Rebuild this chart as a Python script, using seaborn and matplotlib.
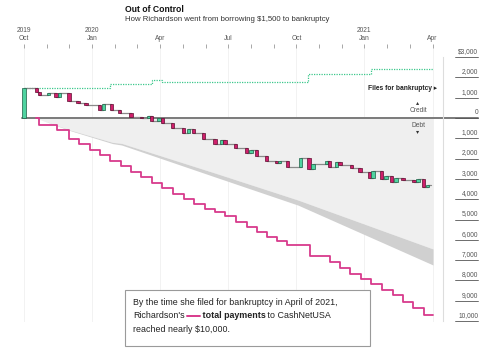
import matplotlib
matplotlib.use('Agg')
import matplotlib.pyplot as plt
from matplotlib.lines import Line2D
from matplotlib.patches import Rectangle
import seaborn as sns
import pandas as pd

# ---------------------------
# Data (months since Oct 1, 2019; dollars, debt negative)
# ---------------------------
pay_month = [0.53, 0.65, 1.45, 1.98, 2.42, 2.91, 3.35, 3.79, 4.27, 4.71, 5.15,
             5.64, 6.08, 6.56, 7.05, 7.49, 7.97, 8.41, 8.85, 9.34, 9.82, 10.26,
             10.70, 11.15, 11.59, 12.60, 13.48, 13.92, 14.36, 14.85, 15.29,
             15.77, 16.26, 16.70, 17.14, 17.62, 18.0]
pay_total = [0, -350, -600, -1030, -1300, -1580, -1820, -2120, -2360, -2660,
             -2900, -3200, -3450, -3740, -3990, -4240, -4480, -4650, -4850,
             -5100, -5350, -5600, -5850, -6050, -6280, -6800, -7100, -7400,
             -7700, -7950, -8200, -8450, -8720, -9060, -9360, -9700, -9700]

evt_month = [0.0, 0.56, 0.67, 1.07, 1.41, 1.56, 1.98, 2.38, 2.74, 3.33, 3.49,
             3.85, 4.21, 4.71, 5.18, 5.48, 5.62, 5.95, 6.09, 6.53, 7.02, 7.24,
             7.46, 7.90, 8.41, 8.70, 8.85, 9.33, 9.81, 10.0, 10.25, 10.69,
             11.12, 11.26, 11.61, 12.19, 12.56, 12.74, 13.33, 13.45, 13.76,
             13.92, 14.43, 14.80, 15.24, 15.37, 15.76, 15.95, 16.20, 16.39,
             16.70, 17.18, 17.36, 17.59, 17.78]
evt_level = [1500, 1300, 1130, 1220, 1020, 1220, 820, 760, 640, 390, 690,
             390, 230, 60, -15, 100, -130, 0, -230, -490, -740, -540,
             -740, -1030, -1280, -1060, -1300, -1490, -1740, -1580, -1860, -2120,
             -2220, -2120, -2400, -1990, -2510, -2270, -2120, -2400, -2180,
             -2320, -2480, -2670, -2970, -2610, -3000, -2840, -3140, -2980,
             -3060, -3140, -3000, -3380, -3300]

credit_month = [0, 3.79, 5.64, 6.08, 12.51, 15.29, 18.02]
credit_total = [1500, 1670, 1870, 1770, 2170, 2410, 2410]

band_month = [0.53, 2.03, 3.9, 4.3, 8.41, 12.07, 18.02]
band_top = [0, -590, -1200, -1250, -2710, -4040, -6450]
band_bottom = [0, -620, -1260, -1330, -2900, -4290, -7240]

tick_months = [0, 3, 6, 9, 12, 15, 18]
tick_labels = ["2019\nOct", "2020\nJan", "Apr", "Jul", "Oct", "2021\nJan", "Apr"]
y_ticks = [3000, 2000, 1000, 0, -1000, -2000, -3000, -4000, -5000, -6000,
           -7000, -8000, -9000, -10000]
y_labels = ["$3,000", "2,000", "1,000", "0", "1,000", "2,000", "3,000", "4,000",
            "5,000", "6,000", "7,000", "8,000", "9,000", "10,000"]

# ---------------------------
# Style
# ---------------------------
sns.set_theme(style="white")
plt.rcParams['font.family'] = ['Liberation Sans', 'DejaVu Sans']

MAGENTA = "#cf1f6b"
MAG_EDGE = "#5e0d30"
GREEN = "#4fd3a0"
GREEN_EDGE = "#1d5e45"
PAY = "#d83a8c"

fig = plt.figure(figsize=(5, 3.54), dpi=100)
ax = fig.add_axes([0.04, 0.0904, 0.846, 0.774])
ax.set_axisbelow(True)

# shaded projection area
ax.fill_between(band_month, 0, band_top, color="#efefef", lw=0, zorder=1)
ax.fill_between(band_month, band_top, band_bottom, color="#d0d0d0", lw=0, zorder=1)

# credit dotted line
sns.lineplot(x=credit_month, y=credit_total, ax=ax, drawstyle='steps-post',
             estimator=None, color="#3cc88c", lw=0.9, linestyle=(0, (1, 1)), zorder=2)

# balance waterfall
bal = pd.DataFrame({"month": evt_month + [17.92], "level": evt_level + [evt_level[-1]]})
sns.lineplot(data=bal, x="month", y="level", ax=ax, drawstyle='steps-post',
             estimator=None, color="#8a8a8a", lw=0.9, zorder=2)
prev = 0
for m, lv in zip(evt_month, evt_level):
    up = lv > prev
    ax.bar(m, lv - prev, bottom=prev, width=0.15,
           color=GREEN if up else MAGENTA,
           edgecolor=GREEN_EDGE if up else MAG_EDGE, linewidth=0.5, zorder=3)
    prev = lv

# total payments
sns.lineplot(x=pay_month, y=pay_total, ax=ax, drawstyle='steps-post',
             estimator=None, color=PAY, lw=1.3, zorder=2)

# zero line
ax.axhline(0, xmin=0.005, xmax=1.083, color="#7a7a7a", lw=1.4, clip_on=False, zorder=1.5)

ax.set_xlim(-0.176, 18.46)
ax.set_ylim(-10049, 3448)

# axes styling
for s in ['left', 'top', 'bottom']:
    ax.spines[s].set_visible(False)
ax.spines['right'].set_color("#dddddd")
ax.spines['right'].set_linewidth(0.8)
ax.spines['right'].set_bounds(-10000, 3000)

ax.xaxis.tick_top()
ax.set_xticks(tick_months)
ax.set_xticklabels(tick_labels)
ax.set_xticks(range(0, 19), minor=True)
ax.tick_params(axis='x', which='both', top=True, bottom=False, length=3,
               width=0.6, color="#999999", pad=1.5, labelsize=4.8,
               labelcolor="#555555", direction='out')
ax.grid(axis='x', which='major', color="#f0f0f0", lw=0.6, zorder=0)
ax.grid(axis='y', visible=False)
ax.set_yticks([])
ax.set_xlabel("")
ax.set_ylabel("")

ytr = ax.get_yaxis_transform()
for v, lab in zip(y_ticks, y_labels):
    ax.plot([1.028, 1.083], [v, v], transform=ytr, color="#555555", lw=0.6, clip_on=False)
    ax.annotate(lab, (1.083, v), xycoords=ytr, xytext=(0, 1.5), textcoords='offset points',
                ha='right', va='bottom', fontsize=4.8, color="#555555", annotation_clip=False)

# labels in plot
ax.text(18.19, 1430, "Files for bankruptcy \u25b8", ha='right', va='center',
        fontsize=4.8, fontweight='bold', color="#222222")
ax.text(17.36, 740, "\u25b4", ha='center', va='center', fontsize=4.5, color="#333333",
        family=['DejaVu Sans'])
ax.text(17.36, 390, "Credit", ha='center', va='center', fontsize=4.8, color="#555555")
ax.text(17.36, -380, "Debt", ha='center', va='center', fontsize=4.8, color="#555555")
ax.text(17.36, -660, "\u25be", ha='center', va='center', fontsize=4.5, color="#333333",
        family=['DejaVu Sans'])

# title
fig.text(0.25, 1 - 10 / 354, "Out of Control", ha='left', va='center',
         fontsize=6.2, fontweight='bold', color="#111111")
fig.text(0.25, 1 - 19.5 / 354, "How Richardson went from borrowing $1,500 to bankruptcy",
         ha='left', va='center', fontsize=5.6, color="#333333")

# annotation box
fig.add_artist(Rectangle((125 / 500, 1 - 346 / 354), 245 / 500, 56 / 354,
                         transform=fig.transFigure, facecolor="white",
                         edgecolor="#9a9a9a", lw=0.8, zorder=5))
renderer = fig.canvas.get_renderer()
FS = 6.4


def run_text(x_px, y_px, parts):
    for s, kw in parts:
        if s is None:
            yf = 1 - y_px / 354
            fig.add_artist(Line2D([(x_px + 2) / 500, (x_px + 15) / 500], [yf, yf],
                                  transform=fig.transFigure, color=PAY, lw=1.4, zorder=6))
            x_px += 15
            continue
        t = fig.text(x_px / 500, 1 - y_px / 354, s, ha='left', va='center',
                     fontsize=FS, color="#222222", zorder=6, **kw)
        x_px = t.get_window_extent(renderer).x1


run_text(133, 302.5, [("By the time she filed for bankruptcy in April of 2021,", {})])
run_text(133, 316, [("Richardson's", {}), (None, {}), (" total payments", {"fontweight": "bold"}),
                    (" to CashNetUSA", {})])
run_text(133, 329.5, [("reached nearly $10,000.", {})])

fig.savefig("out.png", dpi=100)
plt.close(fig)
